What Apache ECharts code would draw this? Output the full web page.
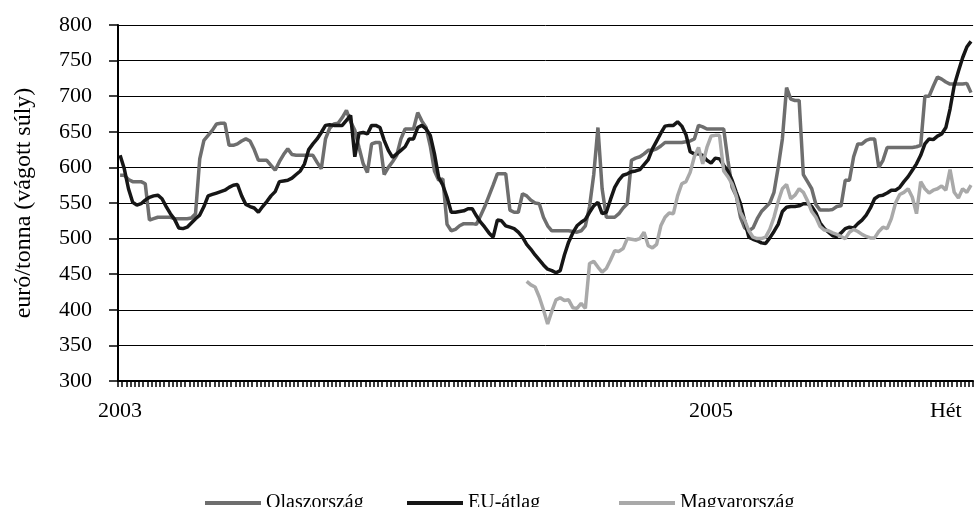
<!DOCTYPE html>
<html>
<head>
<meta charset="utf-8">
<script src="https://cdn.jsdelivr.net/npm/echarts@6/dist/echarts.min.js"></script>
<style>
  html, body { margin: 0; padding: 0; background: #fff; }
  #main { width: 974px; height: 507px; }
</style>
</head>
<body>
<div id="main"></div>
<script>
// heti árak, euró/tonna
var weekCount = 204;
var tickLabels = { 0: '2003', 141: '2005', 197: 'Hét' };

var olaszorszag = [
  589, 589, 583, 580, 580, 580, 577, 526, 528, 530, 530, 530, 530, 528, 528, 528, 528, 529, 535, 612,
  638, 645, 652, 661, 662, 662, 631, 631, 633, 637, 640, 637, 625, 610, 610, 610, 603, 596, 608, 618,
  626, 618, 617, 617, 617, 617, 617, 607, 598, 640, 655, 661, 662, 670, 680, 664, 652, 628, 605, 593,
  633, 635, 635, 590, 600, 608, 617, 640, 654, 654, 654, 677, 665, 656, 630, 595, 582, 584, 520, 511,
  513, 518, 521, 521, 521, 520, 532, 545, 560, 575, 591, 591, 591, 540, 537, 537, 563, 560, 554, 550,
  549, 530, 518, 511, 511, 511, 511, 511, 510, 509, 511, 518, 545, 590, 656, 570, 530, 530, 530, 535,
  543, 549, 610, 613, 615, 619, 624, 624, 626, 630, 635, 635, 635, 635, 635, 636, 637, 640, 659, 657,
  654, 654, 654, 654, 654, 610, 572, 560, 530, 515, 511, 515, 528, 538, 544, 550, 565, 600, 640, 712,
  696, 694, 694, 590, 580, 570, 548, 540, 540, 540, 541, 545, 546, 582, 582, 615, 633, 633, 638, 640,
  640, 600, 610, 628, 628, 628, 628, 628, 628, 628, 629, 631, 700, 700, 714, 727, 724, 720, 717, 717,
  717, 717, 718, 705
];

var euAtlag = [
  617, 598, 570, 551, 547, 549, 554, 558, 560, 561, 556, 545, 535, 527, 515, 514, 516, 522, 528, 533,
  545, 560, 562, 564, 566, 568, 572, 575, 576, 560, 548, 545, 543, 537, 545, 552, 560, 566, 580, 581,
  582, 585, 590, 595, 605, 625, 633, 640, 649, 659, 660, 659, 659, 659, 666, 673, 615, 648, 649, 647,
  659, 659, 656, 638, 624, 614, 619, 624, 629, 640, 640, 656, 659, 654, 645, 619, 586, 575, 558, 537,
  537, 538, 539, 542, 542, 532, 523, 516, 508, 502, 526, 525, 518, 516, 514, 509, 502, 492, 485, 477,
  470, 463, 457, 455, 452, 455, 477, 495, 508, 518, 523, 527, 537, 546, 551, 535, 537, 555, 572, 582,
  589, 591, 594, 595, 597, 604, 611, 626, 637, 648, 658, 659, 659, 664, 658, 646, 622, 619, 619, 617,
  610, 606, 613, 612, 603, 595, 582, 565, 549, 525, 502, 499, 497, 494, 493, 501, 510, 520, 538, 544,
  545, 545, 546, 549, 549, 545, 536, 522, 514, 509, 504, 503, 508, 514, 516, 515, 521, 526, 533, 543,
  556, 560, 561, 564, 568, 568, 572, 580, 587, 596, 605, 617, 633, 640, 639, 644, 647, 656, 682, 715,
  735, 754, 769, 777
];

// Magyarország: az adatsor a 97. héttől indul
var magyarStart = 97;
var magyarorszag = [
  440, 435, 432, 418, 400, 380, 398, 414, 417, 413, 414, 403, 402, 409, 402, 465, 468, 460, 453, 458,
  470, 483, 482, 486, 500, 499, 498, 500, 509, 490, 487, 492, 518, 530, 536, 535, 560, 577, 580, 593,
  615, 628, 605, 628, 644, 645, 645, 595, 587, 577, 560, 537, 526, 511, 502, 500, 500, 502, 513, 530,
  552, 570, 576, 556, 561, 570, 565, 553, 538, 530, 517, 512, 511, 508, 506, 503, 500, 509, 513, 510,
  506, 503, 501, 501, 510, 516, 514, 528, 550, 562, 565, 570, 558, 535, 580, 570, 564, 568, 570, 574,
  568, 597, 565, 557, 570, 565, 575
];

var categories = [];
for (var i = 0; i < weekCount; i++) {
  categories.push(tickLabels[i] || '');
}
var magyarFull = [];
for (var j = 0; j < weekCount; j++) {
  var k = j - magyarStart;
  magyarFull.push(k >= 0 && k < magyarorszag.length ? magyarorszag[k] : null);
}

var font = 'Liberation Serif';
var colOlasz = '#6e6e6e';
var colEU = '#161616';
var colMagyar = '#a9a9a9';

var myChart = echarts.init(document.getElementById('main'));

function legendItem(name, left) {
  return {
    data: [name],
    left: left,
    top: 488,
    icon: 'rect',
    itemWidth: 56,
    itemHeight: 4,
    selectedMode: false,
    textStyle: { fontFamily: font, fontSize: 20, color: '#000' }
  };
}

var option = {
  animation: false,
  backgroundColor: '#fff',
  grid: { left: 118, right: 0, top: 25, bottom: 126, containLabel: false },
  legend: [
    legendItem('Olaszország', 200),
    legendItem('EU-átlag', 402),
    legendItem('Magyarország', 614)
  ],
  xAxis: {
    type: 'category',
    data: categories,
    boundaryGap: true,
    axisLine: { lineStyle: { color: '#000', width: 2 } },
    axisTick: { show: true, interval: 0, length: 6, lineStyle: { color: '#000', width: 1.5 } },
    axisLabel: { interval: 0, margin: 19, fontFamily: font, fontSize: 22, color: '#000' },
    splitLine: { show: false }
  },
  yAxis: {
    type: 'value',
    min: 300,
    max: 800,
    interval: 50,
    name: 'euró/tonna (vágott súly)',
    nameLocation: 'middle',
    nameRotate: 90,
    nameGap: 82,
    nameTextStyle: { fontFamily: font, fontSize: 24, color: '#000' },
    axisLine: { show: true, lineStyle: { color: '#000', width: 2 } },
    axisTick: { show: true, length: 9, lineStyle: { color: '#000', width: 1.5 } },
    axisLabel: { margin: 26, fontFamily: font, fontSize: 22, color: '#000' },
    splitLine: { show: true, lineStyle: { color: '#000', width: 1 } }
  },
  series: [
    {
      name: 'Olaszország',
      type: 'line',
      data: olaszorszag,
      color: colOlasz,
      showSymbol: false,
      symbol: 'none',
      lineStyle: { color: colOlasz, width: 3.5 }
    },
    {
      name: 'EU-átlag',
      type: 'line',
      data: euAtlag,
      color: colEU,
      showSymbol: false,
      symbol: 'none',
      lineStyle: { color: colEU, width: 3.5 }
    },
    {
      name: 'Magyarország',
      type: 'line',
      data: magyarFull,
      color: colMagyar,
      showSymbol: false,
      symbol: 'none',
      connectNulls: false,
      lineStyle: { color: colMagyar, width: 3.5 }
    }
  ]
};

myChart.setOption(option, true);
</script>
</body>
</html>
